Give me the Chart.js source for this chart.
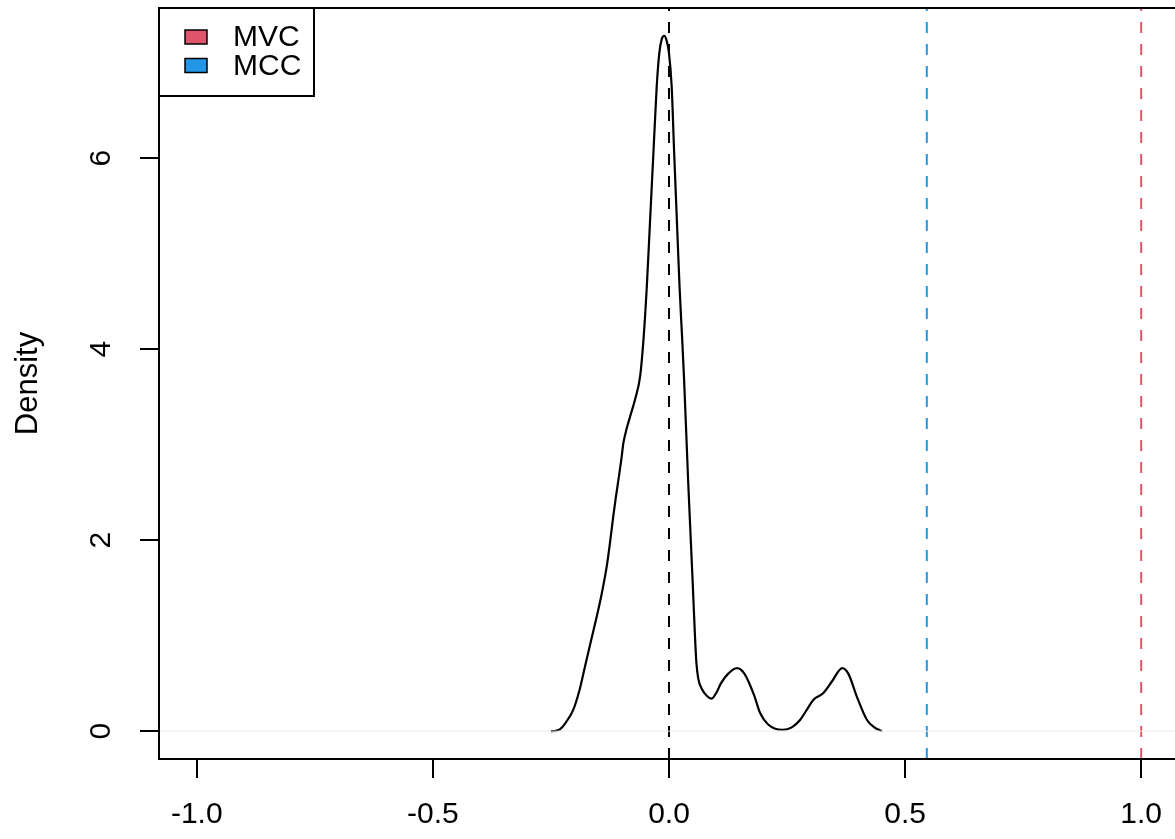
<!DOCTYPE html>
<html>
<head>
<meta charset="utf-8">
<script src="https://cdn.jsdelivr.net/npm/chart.js@4/dist/chart.umd.min.js"></script>
<style>
  html, body { margin: 0; padding: 0; background: #fff; overflow: hidden; }
  canvas { display: block; }
</style>
</head>
<body>
<canvas id="density-chart" width="1175" height="839"></canvas>
<script>
// density curve
const densityX = [-0.25, -0.24, -0.231, -0.22, -0.203, -0.19, -0.178, -0.165, -0.153, -0.142, -0.132, -0.125,
    -0.118, -0.1125, -0.1074, -0.1, -0.0968, -0.09, -0.0826, -0.072, -0.061, -0.054, -0.047, -0.04,
    -0.033, -0.026, -0.0205, -0.015, -0.0099, -0.005, 0.0, 0.0057, 0.011, 0.0167, 0.0224, 0.028, 0.032,
    0.0405, 0.05, 0.055, 0.058, 0.062, 0.07, 0.08, 0.09, 0.1, 0.11, 0.125, 0.144, 0.16, 0.18, 0.193,
    0.21, 0.24, 0.26, 0.278, 0.295, 0.306, 0.327, 0.345, 0.367, 0.38, 0.398, 0.419, 0.435, 0.451];
const densityY = [0, 0.005, 0.02, 0.08, 0.22, 0.42, 0.675, 0.95, 1.2, 1.45, 1.72, 1.97,
    2.25, 2.45, 2.62, 2.88, 3.01, 3.16, 3.29, 3.47, 3.72, 4.1, 4.65, 5.35,
    6.05, 6.75, 7.1, 7.25, 7.28, 7.23, 7.1, 6.75, 6.05, 5.35, 4.65, 4.1, 3.68,
    2.63, 1.58, 1.0, 0.72, 0.55, 0.44, 0.37, 0.34, 0.4, 0.5, 0.6, 0.66, 0.6, 0.38, 0.19,
    0.07, 0.015, 0.04, 0.12, 0.25, 0.33, 0.4, 0.52, 0.66, 0.6, 0.36, 0.12, 0.04, 0];

const xTicks = [-1, -0.5, 0, 0.5, 1];
const xTickLabels = ['-1.0', '-0.5', '0.0', '0.5', '1.0'];
const yTicks = [0, 2, 4, 6];
const xRange = [-1.08, 1.0716];
const yRange = [-0.2912, 7.5712];

const seriesNames = ['MVC', 'MCC'];
const seriesColors = ['#DF536B', '#2297E6'];
const seriesValues = [1.0, 0.546];
const nullValue = 0;

const FONT = '"Liberation Sans", Arial, sans-serif';

function vline(x, color) {
    return {
        data: [{x: x, y: yRange[0]}, {x: x, y: yRange[1]}],
        borderColor: color,
        borderWidth: 2,
        borderDash: [11, 11],
        pointRadius: 0
    };
}

const rPlot = {
    id: 'rPlot',
    afterDraw(chart) {
        const ctx = chart.ctx;
        const a = chart.chartArea;
        const yScale = chart.scales.y;
        ctx.save();
        ctx.strokeStyle = '#000';
        ctx.lineWidth = 2;
        // right side of the box falls outside the window
        ctx.strokeRect(a.left, a.top, a.right + 6 - a.left, a.bottom - a.top);

        // rotated y tick labels like R
        ctx.fillStyle = '#000';
        ctx.font = '30px ' + FONT;
        yTicks.forEach(v => {
            ctx.save();
            ctx.translate(102, yScale.getPixelForValue(v));
            ctx.rotate(-Math.PI / 2);
            ctx.textAlign = 'center';
            ctx.textBaseline = 'middle';
            ctx.fillText(String(v), 0, 0);
            ctx.restore();
        });

        // legend box top left
        ctx.fillStyle = '#fff';
        ctx.fillRect(a.left, a.top, 155, 88);
        ctx.strokeRect(a.left, a.top, 155, 88);
        seriesNames.forEach((name, i) => {
            const cy = 37 + i * 28.5;
            ctx.fillStyle = seriesColors[i];
            ctx.fillRect(185, cy - 7, 22, 14);
            ctx.lineWidth = 1.5;
            ctx.strokeRect(185, cy - 7, 22, 14);
            ctx.fillStyle = '#000';
            ctx.textAlign = 'left';
            ctx.textBaseline = 'middle';
            ctx.fillText(name, 233, cy + 1);
        });
        ctx.restore();
    }
};

new Chart(document.querySelector('#density-chart').getContext('2d'), {
    type: 'line',
    data: {
        datasets: [
            {
                data: [{x: xRange[0], y: 0}, {x: xRange[1], y: 0}],
                borderColor: '#ececec',
                borderWidth: 1,
                pointRadius: 0
            },
            {
                data: densityX.map((x, i) => ({x: x, y: densityY[i]})),
                borderColor: '#000',
                borderWidth: 2.2,
                pointRadius: 0,
                cubicInterpolationMode: 'monotone'
            },
            vline(nullValue, '#000'),
            vline(seriesValues[1], seriesColors[1]),
            vline(seriesValues[0], seriesColors[0])
        ]
    },
    options: {
        responsive: false,
        animation: false,
        devicePixelRatio: 1,
        layout: { padding: { top: 8, right: 0, left: 0, bottom: 0 } },
        plugins: { legend: { display: false }, tooltip: { enabled: false } },
        scales: {
            x: {
                type: 'linear',
                min: xRange[0],
                max: xRange[1],
                afterBuildTicks: s => { s.ticks = xTicks.map(v => ({value: v})); },
                afterFit: s => { s.height = 80; s.paddingLeft = 0; s.paddingRight = 0; },
                border: { display: false },
                grid: { drawOnChartArea: false, drawTicks: true, tickLength: 19, color: '#000', lineWidth: 2 },
                ticks: {
                    padding: 19,
                    maxRotation: 0,
                    color: '#000',
                    font: { family: FONT, size: 30 },
                    callback: v => xTickLabels[xTicks.indexOf(v)]
                }
            },
            y: {
                type: 'linear',
                min: yRange[0],
                max: yRange[1],
                afterBuildTicks: s => { s.ticks = yTicks.map(v => ({value: v})); },
                afterFit: s => { s.width = 159; s.paddingTop = 0; s.paddingBottom = 0; },
                border: { display: false },
                grid: { drawOnChartArea: false, drawTicks: true, tickLength: 19, color: '#000', lineWidth: 2 },
                ticks: { display: false },
                title: {
                    display: true,
                    text: 'Density',
                    color: '#000',
                    font: { family: FONT, size: 31 },
                    padding: { top: 10, bottom: 0 }
                }
            }
        }
    },
    plugins: [rPlot]
});
</script>
</body>
</html>
